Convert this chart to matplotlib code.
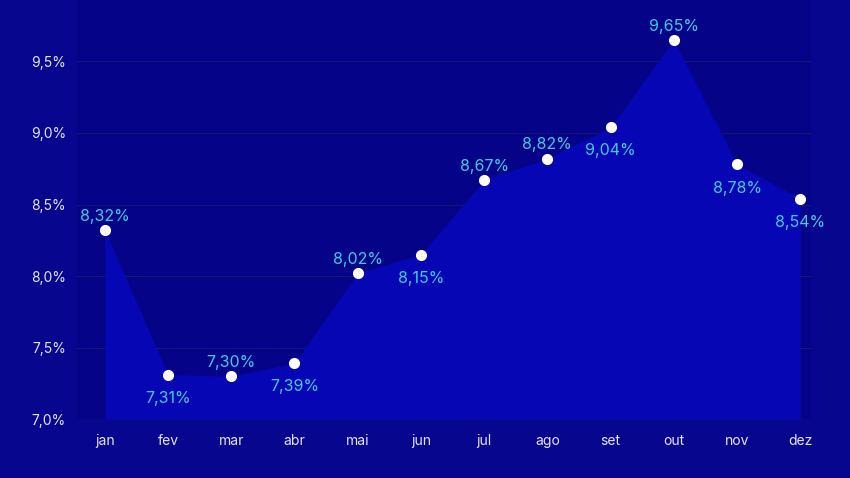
import matplotlib.pyplot as plt

months = ["jan", "fev", "mar", "abr", "mai", "jun", "jul", "ago", "set", "out", "nov", "dez"]
rates = [8.32, 7.31, 7.30, 7.39, 8.02, 8.15, 8.67, 8.82, 9.04, 9.65, 8.78, 8.54]
# label above (1) or below (-1) the point
label_side = [1, -1, 1, -1, 1, -1, 1, 1, -1, 1, -1, -1]
yticks = [7.0, 7.5, 8.0, 8.5, 9.0, 9.5]

plt.rcParams['font.family'] = ['Inter', 'DejaVu Sans']

bg = "#07068e"
fig = plt.figure(figsize=(8.5, 4.78), dpi=100, facecolor=bg)
ax = fig.add_axes([0.0906, 0.1234, 0.8635, 0.8766])
ax.set_facecolor("#050488")

x = list(range(len(months)))
ax.fill_between(x, rates, 7.0, color="#0606b4", linewidth=0, zorder=1)
ax.plot(x, rates, "o", color="white", markersize=7, zorder=3)

for xi, v, side in zip(x, rates, label_side):
    txt = f"{v:.2f}%".replace(".", ",")
    off = 10 if side > 0 else -17
    ax.annotate(txt, (xi, v), xytext=(0, off), textcoords="offset points",
                ha="center", va="center", color="#45c8e4", fontsize=11.5, zorder=4)

ax.set_xlim(-0.44, 11.17)
ax.set_ylim(7.0, 9.93)
ax.set_xticks(x)
ax.set_xticklabels(months)
ax.set_yticks(yticks)
ax.set_yticklabels([f"{t:.1f}%".replace(".", ",") for t in yticks])
ax.tick_params(colors="#e4e4f4", labelsize=10, length=0)
ax.tick_params(axis="y", pad=8)
ax.tick_params(axis="x", pad=11)
ax.grid(axis="y", color="#16166c", linewidth=0.8, zorder=0)
ax.set_axisbelow(True)
for s in ax.spines.values():
    s.set_visible(False)

fig.savefig("out.png", dpi=100, facecolor=bg)
